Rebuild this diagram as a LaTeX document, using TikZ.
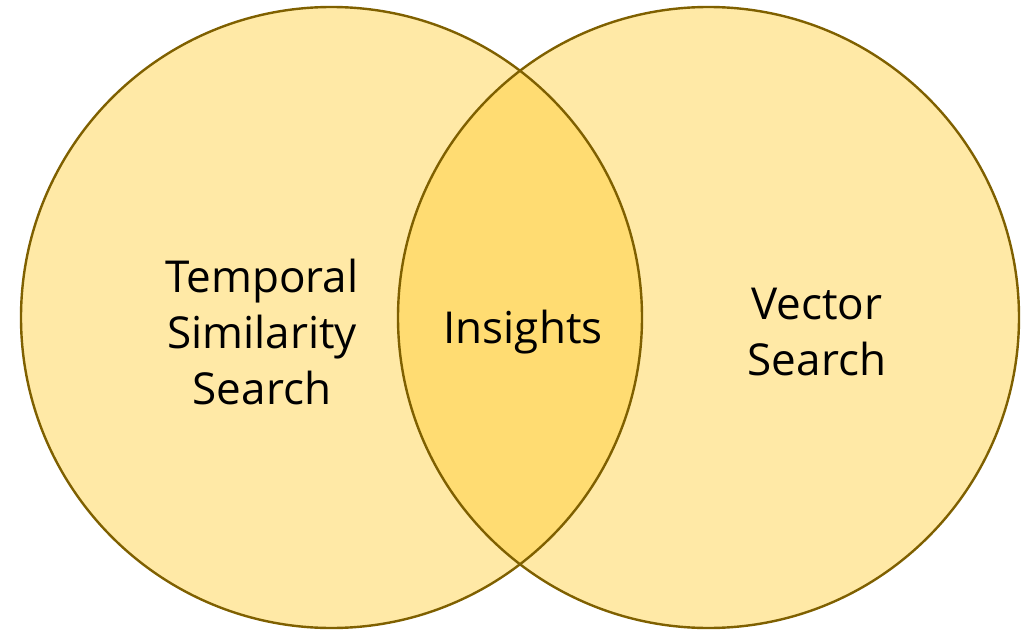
\documentclass[tikz,border=0pt]{standalone}
\usepackage{fontspec}
\setmainfont{Open Sans}
\begin{document}
\begin{tikzpicture}[x=1pt,y=-1pt,
  vennfill/.style={circle, minimum size=621pt, inner sep=0pt, fill={rgb,255:red,255;green,201;blue,40}, fill opacity=0.41},
  edge/.style={draw={rgb,255:red,127;green,96;blue,0}, line width=2.4pt},
  label/.style={align=center, text=black, font=\fontsize{44}{56}\selectfont}]
\useasboundingbox (0,0) rectangle (1036,631);
\node[vennfill] (L) at (331.5,317.5) {};
\node[vennfill] (R) at (708.5,317.5) {};
\draw[edge] (L.center) circle[radius=310.5pt];
\draw[edge] (R.center) circle[radius=310.5pt];
\node[label] (tss) at (262,332) {Temporal\\Similarity\\Search};
\node[label] (ins) at (523,332) {Insights};
\node[label] (vs) at (817,332) {Vector\\Search};
\end{tikzpicture}
\end{document}
